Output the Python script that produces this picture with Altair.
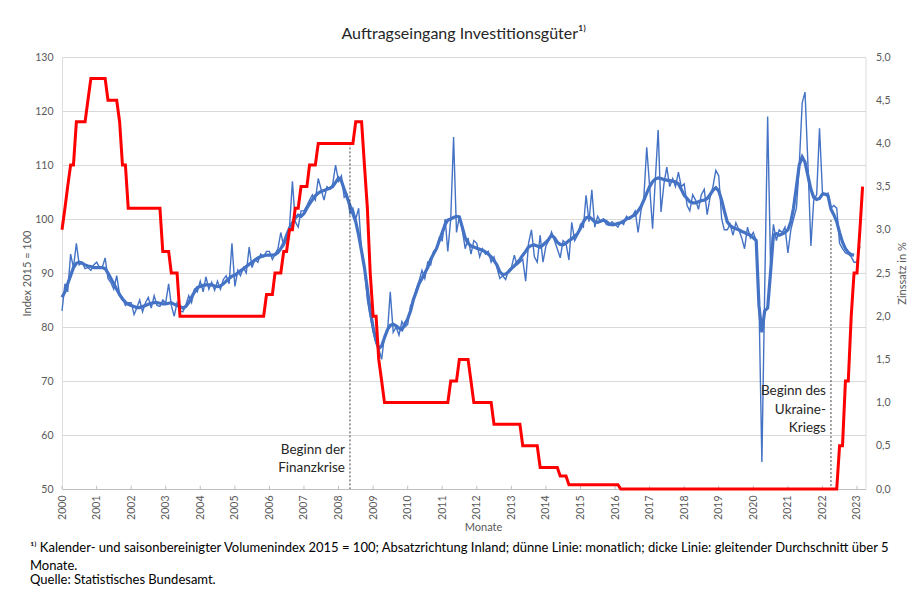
import altair as alt
import pandas as pd

# ---------------- data ----------------
# monthly index (thin line), Jan 2000 .. Feb 2023
thin = [
    83, 88, 86.5, 93.5, 91, 95.5, 91.5, 92, 90.8, 91, 90.5, 91.5,            # 2000
    92, 91, 91, 92.8, 89, 88.2, 87, 89.5, 86, 85.5, 84, 84.5,                # 2001
    84.5, 82.3, 83.5, 85, 82.8, 84.5, 85.5, 83.5, 85.8, 84, 83.8, 85,        # 2002
    84.5, 88, 84, 82, 84.5, 83, 82.8, 84, 85.8, 84.5, 87, 86.5,              # 2003
    88.5, 86.5, 89.3, 87, 88.3, 86.8, 88.5, 87, 88.8, 89.5, 88, 95.5,        # 2004
    87.5, 90.5, 89.5, 91, 90, 94.8, 91, 92.5, 92, 93.5, 93, 94,              # 2005
    94, 92.5, 93.5, 94.5, 97.5, 95, 96, 98.5, 107, 99.5, 98.5, 101.5,        # 2006
    101.5, 102.5, 103.5, 104.5, 103.5, 107.5, 105.5, 103.5, 106, 105.5, 106.5, 110,  # 2007
    107, 108, 104, 104.5, 101, 102, 100, 102, 94, 91, 85, 82,                # 2008
    79, 77, 76, 74, 78.5, 79, 86.5, 79, 80, 78.5, 81, 80,                    # 2009
    80.5, 84, 84.5, 87, 88.5, 90.5, 89, 92, 91.5, 94, 94.5, 96.5,            # 2010
    96, 100, 94, 100, 115.2, 97.5, 100.5, 98, 94.5, 96.5, 93.5, 96,          # 2011
    95.5, 93, 94.5, 93.5, 94, 92, 93, 91, 89, 89.5, 88.8, 90.5,              # 2012
    91, 93.3, 91.5, 92, 92.5, 88.5, 95.5, 98, 93, 92, 97, 92,                # 2013
    95, 96, 97.6, 96, 94.5, 92.8, 96, 95.5, 92.4, 99.4, 96, 97,              # 2014
    99, 98.5, 104.4, 99.5, 105.4, 98.5, 100.5, 99.5, 100, 99, 98.8, 99.5,    # 2015
    99, 98.5, 99.5, 99, 100.5, 100, 100.5, 101.5, 97.5, 101.5, 104, 113.3,   # 2016
    106, 98.2, 107, 116.5, 101.3, 106.5, 109.6, 106, 107.5, 106, 108.7, 106, # 2017
    106.5, 102.5, 101.5, 104.5, 103.5, 101.8, 104.5, 105.5, 100.8, 104, 106, 109,  # 2018
    108, 100, 98, 98, 99, 97, 99.3, 98, 96.5, 94.5, 98.5, 96.5,              # 2019
    97.5, 96, 85, 55, 87, 119, 92, 99, 96, 98, 97.5, 98.5,                   # 2020
    93.7, 98, 100, 102, 110, 121.5, 123.5, 110, 95, 103.5, 104.5, 116.8,     # 2021
    105, 104.5, 104.8, 102, 102.5, 102, 95.5, 94.5, 93.7, 93.5, 93, 92,      # 2022
    92, 95,                                                                  # 2023
]

# 5-month moving average (thick line), Jan 2000 .. Dec 2022
thick = [
    85.5, 86.5, 88, 89.5, 91, 91.8, 92, 91.8, 91.5, 91.3, 91.2, 91,
    91, 91, 91, 90.8, 90, 89, 88, 87, 86, 85.2, 84.6, 84.2,
    84, 83.8, 83.6, 83.6, 83.8, 84, 84.2, 84.4, 84.5, 84.5, 84.4, 84.3,
    84.3, 84.4, 84.5, 84.2, 84, 83.8, 83.5, 83.8, 84.5, 85.5, 86.5, 87.3,
    87.5, 87.7, 87.8, 87.8, 87.8, 87.6, 87.5, 87.6, 88, 88.5, 89, 89.4,
    89.6, 90, 90.4, 90.8, 91.2, 91.6, 92, 92.4, 92.8, 93, 93.2, 93.3,
    93.3, 93.3, 93.4, 93.8, 94.5, 95.5, 97, 98.3, 99.3, 100.2, 100.7, 100.5,
    101, 102, 102.8, 103.6, 104.3, 104.8, 105.1, 105.3, 105.5, 105.7, 106, 106.8,
    107.6, 107, 105.5, 104, 102.5, 101, 99.5, 97, 94, 91, 87, 83,
    80, 77.5, 76, 76.5, 78, 79.5, 80.3, 80.5, 80.2, 79.8, 79.5, 80.5,
    81.5, 83, 85, 86.5, 88, 89, 90, 91, 92.5, 93.5, 94.5, 96,
    97.5, 99, 99.8, 100, 100.3, 100.5, 100.4, 98.5, 96.5, 95.5, 95, 94.8,
    94.6, 94.4, 94.2, 93.9, 93.5, 93, 92.3, 91.5, 90.2, 89.7, 89.8, 90.2,
    90.8, 91.3, 91.9, 92.5, 93.3, 94, 94.8, 95.1, 95.2, 95, 94.8, 95.2,
    95.7, 96.3, 97, 96.5, 95.7, 95.3, 95.2, 95.5, 96, 96.3, 96.8, 97.3,
    98.3, 99.5, 100.2, 100.4, 100, 99.5, 99.4, 99.6, 99.8, 99.5, 99.1, 98.9,
    99, 99.2, 99.3, 99.6, 100, 100.2, 100.5, 100.8, 101.5, 102.3, 103.5, 104.8,
    106, 106.9, 107.4, 107.6, 107.5, 107.3, 107.2, 107.1, 107, 106.9, 106.5, 105.5,
    104.4, 103.8, 103.2, 103, 103, 103.2, 103.4, 103.5, 103.8, 104.5, 105.3, 105.8,
    105.2, 103.5, 101.5, 99.5, 98.8, 98.4, 98.2, 98, 97.7, 97.5, 97.2, 97,
    96.5, 96, 84, 79, 83, 83.5, 90, 97, 97.3, 97, 97.2, 97.5,
    98, 99.5, 102, 106, 110, 111.5, 110.5, 108, 105.5, 104, 103.6, 103.8,
    104.6, 104.6, 104.3, 101.8, 100.8, 99.5, 97.5, 95.7, 94.5, 93.8, 93.4, 93.3,
]

# interest rate in % (red line), Jan 2000 .. Mar 2023
rate = (
    [3.0, 3.25, 3.5, 3.75, 3.75, 4.25, 4.25, 4.25, 4.25, 4.5, 4.75, 4.75]          # 2000
    + [4.75, 4.75, 4.75, 4.75, 4.5, 4.5, 4.5, 4.5, 4.25, 3.75, 3.75, 3.25]         # 2001
    + [3.25] * 11 + [2.75]                                                         # 2002
    + [2.75, 2.75, 2.5, 2.5, 2.5] + [2.0] * 7                                      # 2003
    + [2.0] * 12                                                                   # 2004
    + [2.0] * 11 + [2.25]                                                          # 2005
    + [2.25, 2.25, 2.5, 2.5, 2.5, 2.75, 2.75, 3.0, 3.0, 3.25, 3.25, 3.5]           # 2006
    + [3.5, 3.5, 3.75, 3.75, 3.75] + [4.0] * 7                                     # 2007
    + [4.0] * 6 + [4.25, 4.25, 4.25, 3.75, 3.25, 2.5]                              # 2008
    + [2.0, 2.0, 1.5, 1.25] + [1.0] * 8                                            # 2009
    + [1.0] * 12                                                                   # 2010
    + [1.0, 1.0, 1.0, 1.25, 1.25, 1.25, 1.5, 1.5, 1.5, 1.5, 1.25, 1.0]             # 2011
    + [1.0] * 6 + [0.75] * 6                                                       # 2012
    + [0.75] * 4 + [0.5] * 6 + [0.25] * 2                                          # 2013
    + [0.25] * 5 + [0.15] * 3 + [0.05] * 4                                         # 2014
    + [0.05] * 12                                                                  # 2015
    + [0.05] * 2 + [0.0] * 10                                                      # 2016
    + [0.0] * 12 * 5                                                               # 2017-2021
    + [0.0] * 6 + [0.5, 0.5, 1.25, 1.25, 2.0, 2.5]                                 # 2022
    + [2.5, 3.0, 3.5]                                                              # 2023
)

year_ticks = [f"{y}-01-01" for y in range(2000, 2024)]

event_dates = ["2008-05-01", "2022-04-01"]
event_tops = [114, 99.8]

note_dates = ["2008-05-01", "2008-05-01", "2022-04-01", "2022-04-01", "2022-04-01"]
note_y = [57.2, 53.9, 68.1, 64.6, 61.3]
note_text = ["Beginn der", "Finanzkrise", "Beginn des", "Ukraine-", "Kriegs"]

footnote_1 = ("\u00b9\u207e Kalender- und saisonbereinigter Volumenindex 2015 = 100; Absatzrichtung Inland; "
              "dünne Linie: monatlich; dicke Linie: gleitender Durchschnitt über 5")
footnote_2 = "Monate."
footnote_3 = "Quelle: Statistisches Bundesamt."

# ---------------- tables ----------------
months = pd.date_range("2000-01-01", periods=len(rate), freq="MS").strftime("%Y-%m-%d").tolist()
df_thin = pd.DataFrame({"date": months[:len(thin)], "idx": thin})
df_thick = pd.DataFrame({"date": months[:len(thick)], "idx": thick})
df_rate = pd.DataFrame({"date": months, "rate": rate})
df_ticks = pd.DataFrame({"date": year_ticks})
df_events = pd.DataFrame({"date": event_dates, "top": event_tops})
df_notes = pd.DataFrame({"date": note_dates, "idx": note_y, "label": note_text})
df_one = pd.DataFrame({"k": [0]})

BLUE = "#4472C4"
RED = "#FF0000"
GRAY = "#595959"
FONT = "Lato"

W, H = 803.5, 432

xscale = alt.Scale(type="utc", domain=["2000-01-01", "2023-04-01"])
xaxis = alt.Axis(format="%Y", labelAngle=270, tickCount={"interval": "year", "step": 1},
                 grid=False, ticks=False, domainColor="#bfbfbf", labelColor=GRAY,
                 labelFont=FONT, labelFontSize=10.5, labelPadding=6,
                 title="Monate", titleFont=FONT, titleFontSize=11, titleFontWeight="normal",
                 titleColor=GRAY, titleX=421, titleY=38, titleAlign="center",
                 titleBaseline="middle")
yscale = alt.Scale(domain=[50, 130], nice=False, zero=False)
yaxis = alt.Axis(values=list(range(50, 131, 10)), grid=True, gridColor="#d9d9d9",
                 domain=False, ticks=False, labelColor=GRAY, labelFont=FONT,
                 labelFontSize=10.5, labelPadding=9,
                 title="Index 2015 = 100", titleFont=FONT, titleFontSize=11,
                 titleFontWeight="normal", titleColor=GRAY, titleAngle=270,
                 titleX=-35, titleY=H / 2, titleAlign="center", titleBaseline="middle")

X = alt.X("date:T", scale=xscale, axis=xaxis)

thin_line = alt.Chart(df_thin).mark_line(color=BLUE, strokeWidth=1.4).encode(
    x=X, y=alt.Y("idx:Q", scale=yscale, axis=yaxis))
thick_line = alt.Chart(df_thick).mark_line(color=BLUE, strokeWidth=3.2).encode(
    x=X, y=alt.Y("idx:Q", scale=yscale, axis=yaxis))
tick_rules = alt.Chart(df_ticks).mark_rule(color="#bfbfbf", strokeWidth=1).encode(
    x=X, y=alt.datum(50, scale=yscale, axis=yaxis), y2=alt.datum(50.6))
event_rules = alt.Chart(df_events).mark_rule(color="#404040", strokeWidth=1,
                                             strokeDash=[2, 2]).encode(
    x=X, y=alt.Y("top:Q", scale=yscale, axis=yaxis), y2=alt.datum(50))
notes = alt.Chart(df_notes).mark_text(align="right", baseline="middle", dx=-5,
                                      font=FONT, fontSize=13.5, color="#262626").encode(
    x=X, y=alt.Y("idx:Q", scale=yscale, axis=yaxis), text="label:N")

foot_style = dict(align="left", baseline="middle", font=FONT, fontSize=13, color="#000000")
foot1 = alt.Chart(df_one).mark_text(**foot_style).encode(
    x=alt.value(-32), y=alt.value(490.5), text=alt.value(footnote_1))
foot2 = alt.Chart(df_one).mark_text(**foot_style).encode(
    x=alt.value(-32), y=alt.value(508.5), text=alt.value(footnote_2))
foot3 = alt.Chart(df_one).mark_text(**foot_style).encode(
    x=alt.value(-32), y=alt.value(523), text=alt.value(footnote_3))

left = alt.layer(thin_line, thick_line, tick_rules, event_rules, notes, foot1, foot2, foot3)

raxis = alt.Axis(orient="right", values=[i * 0.5 for i in range(11)],
                 labelExpr="replace(format(datum.value, '.1f'), '.', ',')",
                 grid=False, domain=False, ticks=False, labelColor=GRAY, labelFont=FONT,
                 labelFontSize=10.5, labelPadding=10,
                 title="Zinssatz in %", titleFont=FONT, titleFontSize=11,
                 titleFontWeight="normal", titleColor=GRAY, titleAngle=270,
                 titleX=37, titleY=H / 2, titleAlign="center", titleBaseline="middle")
red_line = alt.Chart(df_rate).mark_line(color=RED, strokeWidth=3).encode(
    x=X, y=alt.Y("rate:Q", scale=alt.Scale(domain=[0, 5], nice=False), axis=raxis))

chart = alt.layer(left, red_line).resolve_scale(y="independent").properties(
    width=W, height=H,
    padding={"left": 54, "top": 49, "right": 48, "bottom": 99},
    autosize=alt.AutoSizeParams(type="none"),
    title=alt.TitleParams(text="Auftragseingang Investitionsgüter\u00b9\u207e", font=FONT,
                          fontSize=16, fontWeight="normal", color="#262626",
                          anchor="middle", frame="group", offset=0, dy=2.5,
                          baseline="alphabetic"),
).configure_view(stroke=None).configure(background="white")

chart.save("out.html", embed_options={"renderer": "svg", "actions": False})
